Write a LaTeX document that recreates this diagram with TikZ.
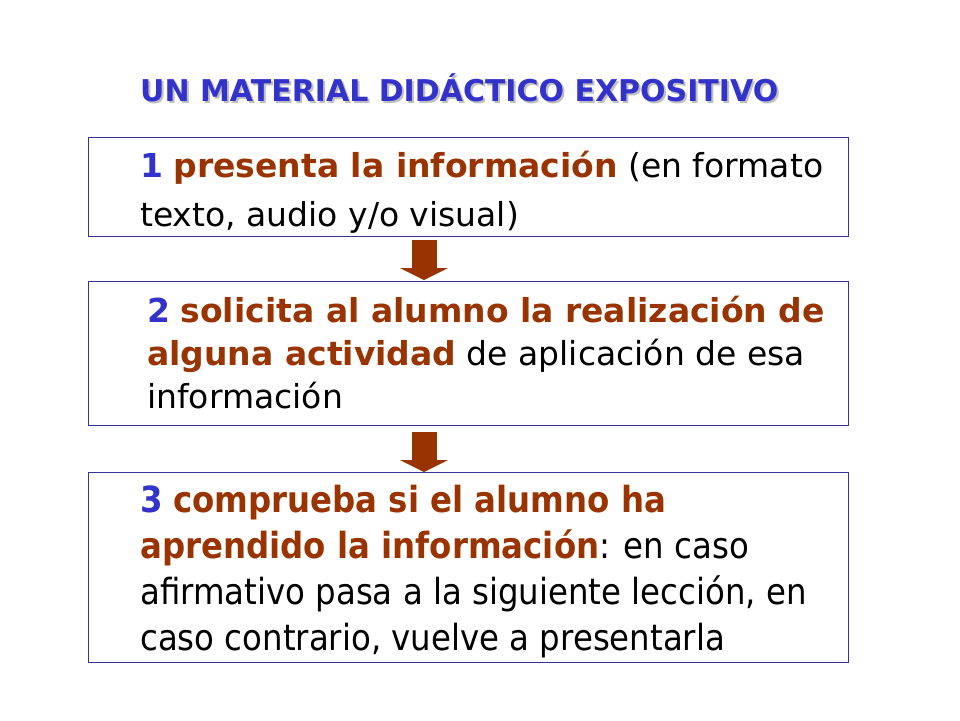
\documentclass[tikz,border=0pt]{standalone}
\usepackage{fontspec}
\setmainfont{DejaVu Sans}
\newfontfamily\narrowfont[FakeStretch=0.9]{DejaVu Sans}
\usetikzlibrary{arrows.meta}
\definecolor{numblue}{RGB}{51,51,204}
\definecolor{keybrown}{RGB}{153,51,0}
\definecolor{framenavy}{RGB}{51,51,153}
\newcommand{\stepno}[1]{\textcolor{numblue}{\textbf{#1}}}
\newcommand{\kw}[1]{\textcolor{keybrown}{\textbf{#1}}}
\begin{document}
\begin{tikzpicture}[x=1pt,y=-1pt,
    box/.style={draw=framenavy,line width=0.8pt,minimum width=760pt,anchor=north west,inner sep=0pt},
    txt/.style={anchor=base west,align=left,inner sep=0pt},
    flow/.style={keybrown,line width=25pt,-{Triangle[width=48pt,length=12pt,line width=0pt]}}]
  \useasboundingbox (0,0) rectangle (960,720);
  % title
  \node[anchor=base west,inner sep=0pt,text=black!25,font=\fontsize{30}{34}\selectfont\bfseries] (shadow) at (142,103) {UN MATERIAL DIDÁCTICO EXPOSITIVO};
  \node[anchor=base west,inner sep=0pt,text=numblue,font=\fontsize{30}{34}\selectfont\bfseries] (title) at (140,101) {UN MATERIAL DIDÁCTICO EXPOSITIVO};
  % boxes
  \draw
    (88,137) node[box,minimum height=99pt] (b1){}
    (88,281) node[box,minimum height=144pt] (b2){}
    (88,472) node[box,minimum height=190pt] (b3){};
  % texts (anchored on the last line)
  \node[txt,font=\fontsize{33}{49}\selectfont] (t1) at (140,226) {\stepno{1} \kw{presenta la información} (en formato\\texto, audio y/o visual)};
  \node[txt,font=\fontsize{33}{43}\selectfont] (t2) at (147,408) {\stepno{2} \kw{solicita al alumno la realización de}\\\kw{alguna actividad} de aplicación de esa\\información};
  \node[txt,font=\fontsize{36}{46}\narrowfont] (t3) at (140,650) {\stepno{3} \kw{comprueba si el alumno ha}\\\kw{aprendido la información}: en caso\\afirmativo pasa a la siguiente lección, en\\caso contrario, vuelve a presentarla};
  % arrows
  \coordinate (a1) at (424,236);
  \coordinate (a2) at (424,425);
  \begin{scope}[flow]
    \draw[shorten <=4pt,shorten >=1pt] (a1) to (a1 |- b2.north);
    \draw[shorten <=7pt] (a2) to (a2 |- b3.north);
  \end{scope}
\end{tikzpicture}
\end{document}
